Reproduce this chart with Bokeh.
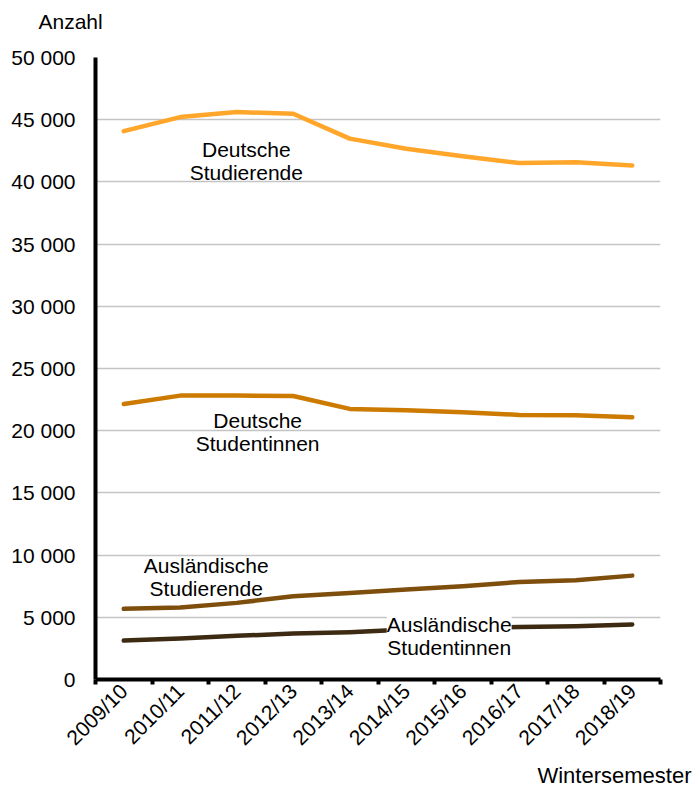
import math
from bokeh.plotting import figure
from bokeh.models import Label, FixedTicker, Range1d, Title
from bokeh.embed import file_html
from bokeh.resources import INLINE

semesters = ["2009/10", "2010/11", "2011/12", "2012/13", "2013/14",
             "2014/15", "2015/16", "2016/17", "2017/18", "2018/19"]
deutsche_studierende = [44080, 45210, 45610, 45480, 43480, 42670, 42060, 41520, 41570, 41310]
deutsche_studentinnen = [22150, 22820, 22820, 22790, 21750, 21650, 21490, 21270, 21250, 21090]
auslaendische_studierende = [5680, 5780, 6160, 6690, 6960, 7230, 7490, 7840, 7970, 8350]
auslaendische_studentinnen = [3130, 3290, 3510, 3690, 3800, 4010, 4120, 4230, 4280, 4420]

y_ticks = [0, 5000, 10000, 15000, 20000, 25000, 30000, 35000, 40000, 45000, 50000]
y_tick_labels = ["0", "5 000", "10 000", "15 000", "20 000", "25 000",
                 "30 000", "35 000", "40 000", "45 000", "50 000"]

series = [
    (deutsche_studierende, "#FFA62B"),
    (deutsche_studentinnen, "#CC7A00"),
    (auslaendische_studierende, "#7E4E0C"),
    (auslaendische_studentinnen, "#3D2A12"),
]

FONT = "Liberation Sans"
idx = list(range(len(semesters)))

p = figure(width=692, height=787, output_backend="svg", toolbar_location=None,
           x_range=Range1d(-0.5, len(semesters) - 0.5), y_range=Range1d(0, 50000),
           min_border_left=95, min_border_right=32, min_border_top=57, min_border_bottom=107)
p.outline_line_color = None
p.background_fill_color = "white"
p.border_fill_color = "white"

for vals, col in series:
    p.line(idx, vals, line_color=col, line_width=4.5, line_cap="round", line_join="round")

# axes
p.xaxis.ticker = FixedTicker(ticks=idx, minor_ticks=[i - 0.5 for i in range(len(semesters) + 1)])
p.xaxis.major_label_overrides = {i: s for i, s in enumerate(semesters)}
p.xaxis.major_tick_out = 0
p.xaxis.major_tick_in = 0
p.xaxis.minor_tick_out = 5
p.xaxis.minor_tick_in = 0
p.xaxis.minor_tick_line_width = 4
p.xaxis.minor_tick_line_color = "black"
p.xaxis.axis_line_width = 4
p.xaxis.axis_line_color = "black"
p.xaxis.major_label_orientation = math.pi / 4
p.xaxis.major_label_text_font = FONT
p.xaxis.major_label_text_font_size = "21px"
p.xaxis.major_label_text_color = "black"
p.xaxis.major_label_standoff = 3

p.yaxis.ticker = FixedTicker(ticks=y_ticks)
p.yaxis.major_label_overrides = {t: l for t, l in zip(y_ticks, y_tick_labels)}
p.yaxis.major_tick_out = 0
p.yaxis.major_tick_in = 0
p.yaxis.minor_tick_out = 0
p.yaxis.minor_tick_in = 0
p.yaxis.axis_line_width = 4
p.yaxis.axis_line_color = "black"
p.yaxis.major_label_text_font = FONT
p.yaxis.major_label_text_font_size = "21px"
p.yaxis.major_label_text_color = "black"
p.yaxis.major_label_standoff = 20

p.xgrid.grid_line_color = None
p.ygrid.ticker = FixedTicker(ticks=y_ticks)
p.ygrid.grid_line_color = "#C4C4C4"
p.ygrid.grid_line_width = 1.5

def lab(x, y, text, bg=None):
    kw = {}
    if bg:
        kw = dict(background_fill_color=bg, background_fill_alpha=1.0)
    l = Label(x=x, y=y, text=text, text_align="center", text_baseline="top",
              text_font=FONT, text_font_size="21px", text_color="black",
              text_line_height=1.0, **kw)
    p.add_layout(l)

lab(2.17, 43500, "Deutsche\nStudierende")
lab(2.37, 21750, "Deutsche\nStudentinnen")
lab(1.46, 10110, "Ausländische\nStudierende")
lab(5.76, 5380, "Ausländische\nStudentinnen", bg="white")

# y-axis caption as the plot title, lifted by an invisible spacer title
p.title.text = "Anzahl"
p.title.align = "left"
p.title.offset = -57
p.title.standoff = 0
p.title.text_font = FONT
p.title.text_font_size = "21px"
p.title.text_font_style = "normal"
p.title.text_color = "black"

spacer = Title(text=" ", text_font_size="1px", standoff=22, text_color="white")
p.add_layout(spacer, "above")

xt = Title(text="Wintersemester", align="right", offset=-31, standoff=0,
           text_font=FONT, text_font_size="22px", text_font_style="normal",
           text_color="black")
p.add_layout(xt, "below")

open("out.html", "w").write(file_html(p, INLINE))
